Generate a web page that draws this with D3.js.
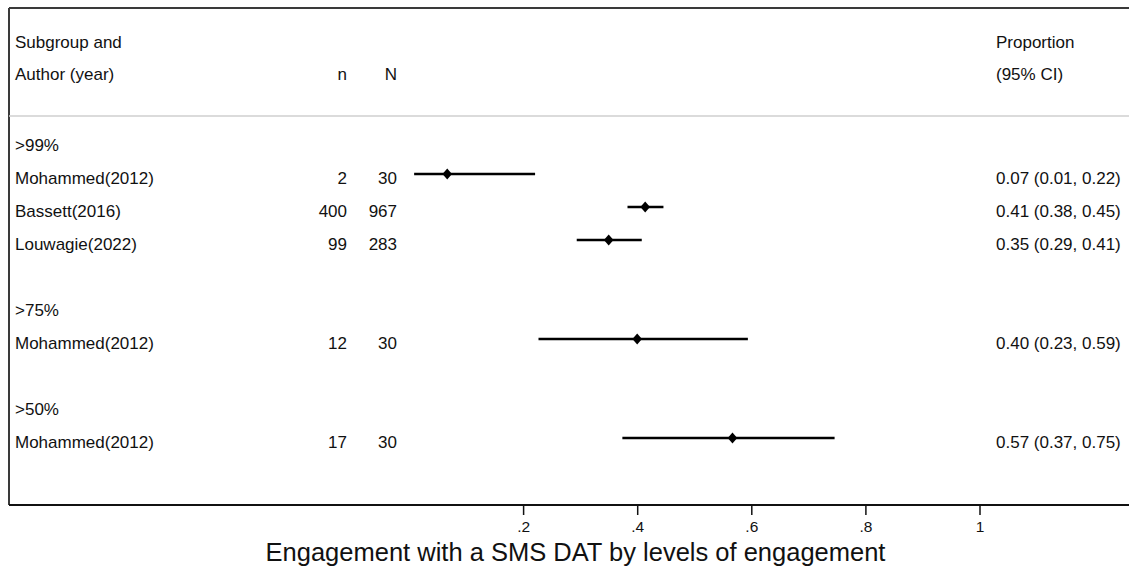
<!DOCTYPE html>
<html>
<head>
<meta charset="utf-8">
<script src="https://cdn.jsdelivr.net/npm/d3@7"></script>
<style>
  html, body { margin: 0; padding: 0; background: #fff; }
  svg { display: block; font-family: "Liberation Sans", Arial, Helvetica, sans-serif; }
</style>
</head>
<body>
<svg id="chart" width="1129" height="569"></svg>
<script>
// ---- data ----
const subgroupLabels = [">99%", ">75%", ">50%"];
const authors = ["Mohammed(2012)", "Bassett(2016)", "Louwagie(2022)", "Mohammed(2012)", "Mohammed(2012)"];
const studyGroup = [">99%", ">99%", ">99%", ">75%", ">50%"];
const nEvents = [2, 400, 99, 12, 17];
const nTotal = [30, 967, 283, 30, 30];
const proportion = [0.067, 0.414, 0.350, 0.400, 0.567];
const ciLow = [0.009, 0.383, 0.294, 0.227, 0.374];
const ciHigh = [0.221, 0.446, 0.408, 0.594, 0.746];
const tickValues = [0.2, 0.4, 0.6, 0.8, 1];
const tickLabels = [".2", ".4", ".6", ".8", "1"];
const headerLeft = ["Subgroup and", "Author (year)"];
const headerRight = ["Proportion", "(95% CI)"];
const xTitle = "Engagement with a SMS DAT by levels of engagement";

// ---- build row list (group header, studies, blank spacer) ----
const rows = [];
subgroupLabels.forEach((g, gi) => {
  rows.push({ type: "group", label: g });
  authors.forEach((a, i) => {
    if (studyGroup[i] === g) rows.push({ type: "study", i });
  });
  if (gi < subgroupLabels.length - 1) rows.push({ type: "blank" });
});

const svg = d3.select("#chart");
const W = 1129, H = 569;
const frameLeft = 9, frameTop = 8, sepY = 116, axisY = 505;
const colN = 347, colBigN = 397, colCI = 996, colLeft = 15;

const x = d3.scaleLinear().domain([0, 1]).range([409, 979.5]);
const y = d3.scaleLinear().domain([0, rows.length - 1]).range([141, 438]);

const fmt = d3.format(".2f");
const fontSize = 17;
const textDy = 9.5; // baseline offset below the row's line position

// frame
svg.append("line").attr("x1", frameLeft).attr("x2", W).attr("y1", frameTop).attr("y2", frameTop)
  .attr("stroke", "#3a3a3a").attr("stroke-width", 2);
svg.append("line").attr("x1", frameLeft).attr("x2", frameLeft).attr("y1", frameTop).attr("y2", axisY)
  .attr("stroke", "#3a3a3a").attr("stroke-width", 2);
svg.append("line").attr("x1", frameLeft).attr("x2", W).attr("y1", sepY).attr("y2", sepY)
  .attr("stroke", "#cfcfcf").attr("stroke-width", 1.5);
svg.append("line").attr("x1", frameLeft).attr("x2", W).attr("y1", axisY).attr("y2", axisY)
  .attr("stroke", "#111").attr("stroke-width", 2);

// headers
const hdrBase = [48, 80];
const txt = (sel) => sel.attr("font-size", fontSize).attr("fill", "#111");
headerLeft.forEach((t, k) => txt(svg.append("text").attr("x", colLeft).attr("y", hdrBase[k]).text(t)));
headerRight.forEach((t, k) => txt(svg.append("text").attr("x", colCI).attr("y", hdrBase[k]).text(t)));
txt(svg.append("text").attr("x", colN).attr("y", hdrBase[1]).attr("text-anchor", "end").text("n"));
txt(svg.append("text").attr("x", colBigN).attr("y", hdrBase[1]).attr("text-anchor", "end").text("N"));

// rows
rows.forEach((r, ri) => {
  const yy = y(ri);
  const tb = yy + textDy;
  if (r.type === "group") {
    txt(svg.append("text").attr("x", colLeft).attr("y", tb).text(r.label));
  } else if (r.type === "study") {
    const i = r.i;
    txt(svg.append("text").attr("x", colLeft).attr("y", tb).text(authors[i]));
    txt(svg.append("text").attr("x", colN).attr("y", tb).attr("text-anchor", "end").text(nEvents[i]));
    txt(svg.append("text").attr("x", colBigN).attr("y", tb).attr("text-anchor", "end").text(nTotal[i]));
    txt(svg.append("text").attr("x", colCI).attr("y", tb)
      .text(`${fmt(proportion[i])} (${fmt(ciLow[i])}, ${fmt(ciHigh[i])})`));
    svg.append("line").attr("x1", x(ciLow[i])).attr("x2", x(ciHigh[i]))
      .attr("y1", yy).attr("y2", yy).attr("stroke", "#000").attr("stroke-width", 2.5);
    const cx = x(proportion[i]);
    svg.append("path")
      .attr("d", `M${cx},${yy - 5.5} L${cx + 4.8},${yy} L${cx},${yy + 5.5} L${cx - 4.8},${yy} Z`)
      .attr("fill", "#000");
  }
});

// axis
const axis = d3.axisBottom(x).tickValues(tickValues)
  .tickFormat((d, k) => tickLabels[k]).tickSize(10).tickPadding(6);
const ag = svg.append("g").attr("transform", `translate(0,${axisY})`).call(axis);
ag.select(".domain").remove();
ag.selectAll(".tick line").attr("stroke", "#111").attr("stroke-width", 1.5);
ag.selectAll(".tick text").attr("font-size", 15.5).attr("fill", "#111")
  .attr("font-family", "'Liberation Sans', Arial, Helvetica, sans-serif");

// title
svg.append("text").attr("x", 575.5).attr("y", 561).attr("text-anchor", "middle")
  .attr("font-size", 25.5).attr("fill", "#111").text(xTitle);
</script>
</body>
</html>
